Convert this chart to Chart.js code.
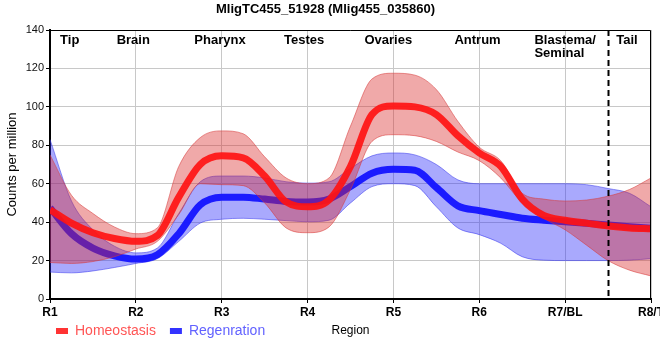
<!DOCTYPE html>
<html>
<head>
<meta charset="utf-8">
<title>MligTC455_51928</title>
<script src="https://cdn.jsdelivr.net/npm/chart.js@4.4.0/dist/chart.umd.min.js"></script>
<style>
  body { margin: 0; background: #fff; }
  #wrap { width: 660px; height: 360px; position: relative; }
</style>
</head>
<body>
<div id="wrap"><canvas id="chart"></canvas></div>
<script>
// Positions along the body (1 = R1 ... 8 = R8/T), sampled every quarter region
const xs = [1, 1.25, 1.5, 1.75, 2, 2.25, 2.5, 2.75, 3, 3.25, 3.5, 3.75, 4, 4.25, 4.5,
  4.75, 5, 5.25, 5.5, 5.75, 6, 6.25, 6.5, 6.75, 7, 7.25, 7.5, 7.75, 8];

// Homeostasis: mean and band
const homeoMean = [46.5, 39.5, 34.5, 31.5, 30, 33, 53, 70, 74.5, 73.5, 64, 50.5, 48, 51.5, 69,
  96, 100.5, 100, 96, 85, 76, 69, 52, 43.5, 41, 39.5, 38, 37, 36.5];
const homeoHigh = [75, 54, 44.5, 37.5, 34, 37, 69, 84, 87.5, 86, 74, 63, 60, 63, 90,
  114.5, 117.5, 116.5, 109, 92.5, 79, 72, 55, 52, 51, 51.5, 53.5, 57, 63];
const homeoLow = [19, 18.5, 19.5, 22, 26, 30, 44, 60, 59.5, 59, 50, 37, 34.5, 37.5, 57,
  82, 85.5, 85, 82, 76.5, 72, 63, 50, 42, 36, 28, 20, 15, 12];

// Regeneration: mean and band
const regenMean = [47.5, 34, 26.5, 22.5, 20.8, 23, 34, 49, 53, 53, 52, 50.8, 50.5, 52, 58.5,
  65.5, 67.5, 67, 58, 48.5, 46, 44, 42, 41, 40.2, 39.4, 38.5, 37.6, 36.8];
const regenHigh = [83, 51, 36, 27.5, 24, 26.5, 44.5, 61, 64, 64, 63, 61, 60.3, 61, 68,
  74.5, 76, 75, 70, 62, 60, 60, 60, 60, 60, 59.5, 57.5, 55, 48];
const regenLow = [14, 13.6, 14.6, 16.4, 18.5, 21, 30, 39.5, 41.5, 42, 41.5, 40.8, 40.2, 41, 50,
  58.5, 60, 59, 48, 37, 33.5, 29, 22, 20.2, 20, 20, 20, 20.2, 21];

const tickLabels = ["R1", "R2", "R3", "R4", "R5", "R6", "R7/BL", "R8/T"];
const regionNames = [["Tip"], ["Brain"], ["Pharynx"], ["Testes"], ["Ovaries"], ["Antrum"],
  ["Blastema/", "Seminal"], ["Tail"]];
const regionCenters = [1.23, 1.97, 2.98, 3.96, 4.94, 5.98, 7.0, 7.72];
const dividerAt = 7.5;
const seriesNames = ["Homeostasis", "Regenration"];

const FONT = "'Liberation Sans', Arial, sans-serif";

function pts(vals) {
  return vals.map((v, i) => ({ x: xs[i], y: v }));
}

function meanLine(label, vals, color, order) {
  return {
    label: label, data: pts(vals), borderColor: color, borderWidth: 7,
    fill: false, pointRadius: 0, cubicInterpolationMode: "monotone", order: order
  };
}

function bandEdge(vals, edge, fillColor, fill, order) {
  return {
    label: "", data: pts(vals), borderColor: edge, borderWidth: 1,
    backgroundColor: fillColor, fill: fill, pointRadius: 0,
    cubicInterpolationMode: "monotone", order: order
  };
}

// Region names, dashed divider and the thin top/right frame
const extras = {
  id: "extras",
  afterLayout(chart) {
    // pull the legend up and left so it sits on the same line as the axis title
    if (chart.legend) {
      chart.legend.top -= 12;
      chart.legend.bottom -= 12;
      chart.legend.left -= 8;
    }
  },
  afterDatasetsDraw(chart) {
    const { ctx, chartArea: a, scales: { x } } = chart;
    ctx.save();
    ctx.strokeStyle = "#000";
    ctx.lineWidth = 1;
    ctx.beginPath();
    ctx.moveTo(a.left, a.top + 0.5);
    ctx.lineTo(a.right - 0.5, a.top + 0.5);
    ctx.lineTo(a.right - 0.5, a.bottom);
    ctx.stroke();

    const dx = Math.round(x.getPixelForValue(dividerAt)) + 0.5;
    ctx.lineWidth = 2;
    ctx.setLineDash([6, 4]);
    ctx.beginPath();
    ctx.moveTo(dx, a.top);
    ctx.lineTo(dx, a.bottom);
    ctx.stroke();
    ctx.setLineDash([]);

    ctx.fillStyle = "#000";
    ctx.font = "bold 13px " + FONT;
    ctx.textBaseline = "middle";
    ctx.textAlign = "left";
    regionNames.forEach((lines, i) => {
      const cx = x.getPixelForValue(regionCenters[i]);
      const w = Math.max(...lines.map((t) => ctx.measureText(t).width));
      lines.forEach((t, j) => {
        ctx.fillText(t, cx - w / 2, a.top + 10 + j * 13);
      });
    });
    ctx.restore();
  }
};

document.addEventListener("DOMContentLoaded", function () {
  const legendColors = [
    { box: "#ff3333", text: "#ff5555" },
    { box: "#3333ff", text: "#6262ff" }
  ];

  new Chart(document.getElementById("chart"), {
    type: "line",
    data: {
      datasets: [
        meanLine(seriesNames[0], homeoMean, "rgba(255,20,20,0.92)", 0),
        bandEdge(homeoHigh, "rgba(215,60,60,0.55)", "rgba(218,40,40,0.4)", "+1", 1),
        bandEdge(homeoLow, "rgba(215,60,60,0.55)", "rgba(218,40,40,0.4)", false, 1),
        meanLine(seriesNames[1], regenMean, "rgba(20,20,255,0.95)", 2),
        bandEdge(regenHigh, "rgba(60,60,235,0.55)", "rgba(40,40,250,0.4)", "+1", 3),
        bandEdge(regenLow, "rgba(60,60,235,0.55)", "rgba(40,40,250,0.4)", false, 3)
      ]
    },
    options: {
      responsive: true,
      maintainAspectRatio: false,
      animation: false,
      events: [],
      layout: { padding: { left: 0, right: 9, top: 0, bottom: 0 } },
      plugins: {
        title: {
          display: true,
          text: "MligTC455_51928 (Mlig455_035860)",
          color: "#000",
          font: { family: FONT, size: 13, weight: "bold" },
          padding: { top: 2, bottom: 12.4 }
        },
        legend: {
          position: "bottom",
          align: "start",
          fullSize: false,
          labels: {
            boxWidth: 12,
            boxHeight: 6,
            padding: 14,
            font: { family: FONT, size: 14 },
            generateLabels: () => seriesNames.map((name, i) => ({
              text: name,
              fillStyle: legendColors[i].box,
              strokeStyle: legendColors[i].box,
              lineWidth: 0,
              fontColor: legendColors[i].text,
              hidden: false,
              datasetIndex: i * 3
            }))
          }
        },
        tooltip: { enabled: false }
      },
      scales: {
        x: {
          type: "linear",
          min: 1,
          max: 8,
          afterFit: (s) => { s.height = 23; s.paddingRight = 0; },
          ticks: {
            stepSize: 1,
            color: "#000",
            padding: 2,
            maxRotation: 0,
            font: { family: FONT, size: 12, weight: "bold" },
            callback: (v) => (Number.isInteger(v) ? tickLabels[v - 1] : "")
          },
          grid: { color: "#c8c8c8", tickColor: "#000", tickLength: 4 },
          border: { color: "#000", width: 2 },
          title: {
            display: true,
            text: "Region",
            color: "#000",
            font: { family: FONT, size: 12 },
            padding: { top: 0, bottom: -16 }
          }
        },
        y: {
          min: 0,
          max: 140,
          afterFit: (s) => { s.width = 50; },
          ticks: {
            stepSize: 20,
            color: "#111",
            padding: 2,
            font: { family: FONT, size: 11 }
          },
          grid: { color: "#c8c8c8", tickColor: "#000", tickLength: 4 },
          border: { color: "#000", width: 2 },
          title: {
            display: true,
            text: "Counts per million",
            color: "#000",
            font: { family: FONT, size: 13 },
            padding: { top: 5, bottom: 0 }
          }
        }
      }
    },
    plugins: [extras]
  });
});
</script>
</body>
</html>
